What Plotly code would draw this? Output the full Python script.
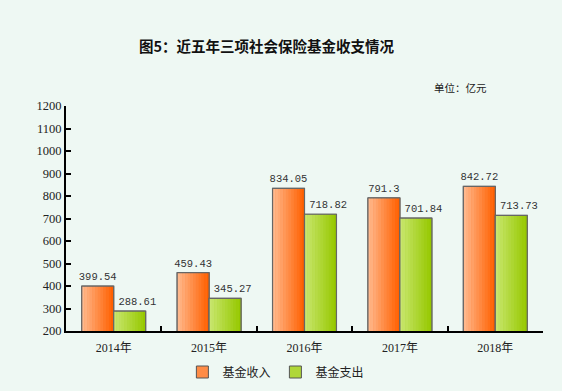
import plotly.graph_objects as go

years = ["2014年", "2015年", "2016年", "2017年", "2018年"]
income = [399.54, 459.43, 834.05, 791.3, 842.72]
expense = [288.61, 345.27, 718.82, 701.84, 713.73]
income_labels = ["399.54", "459.43", "834.05", "791.3", "842.72"]
expense_labels = ["288.61", "345.27", "718.82", "701.84", "713.73"]

BG = "#EEF8F3"
W = 0.335
N = 12
LABEL_FONT = dict(family="Liberation Mono, DejaVu Sans Mono, monospace", size=10.5, color="#333333")


def lerp(c1, c2, t):
    return "rgb(%d,%d,%d)" % tuple(round(a + (b - a) * t) for a, b in zip(c1, c2))


# (name, values, labels, light colour, dark colour, bar offset, label shift)
series = [
    ("基金收入", income, income_labels, (255, 184, 140), (255, 96, 0), -W, 0.0),
    ("基金支出", expense, expense_labels, (200, 230, 110), (150, 200, 0), 0.0, 0.08),
]

fig = go.Figure()
for name, vals, labels, c1, c2, off, shift in series:
    fig.add_trace(go.Bar(
        x=years, y=vals, name=name, offset=off, width=W,
        marker=dict(color=lerp(c1, c2, 0.5), line=dict(color="#555555", width=1)),
        showlegend=True, hoverinfo="skip",
    ))
    for i in range(N):
        fig.add_trace(go.Bar(
            x=years, y=vals, offset=off + W * i / N, width=W / N + 0.002,
            marker=dict(color=lerp(c1, c2, i / (N - 1)), line=dict(width=0)),
            showlegend=False, hoverinfo="skip",
        ))
    fig.add_trace(go.Bar(
        x=years, y=vals, offset=off, width=W,
        marker=dict(color="rgba(0,0,0,0)", line=dict(color="#666666", width=1.2)),
        showlegend=False, hoverinfo="skip",
    ))
    # value labels (invisible bar, only carries the text)
    fig.add_trace(go.Bar(
        x=years, y=vals, offset=off + shift, width=W,
        marker=dict(color="rgba(0,0,0,0)", line=dict(width=0)),
        text=labels, textposition="outside", cliponaxis=False, constraintext="none",
        textfont=LABEL_FONT, showlegend=False, hoverinfo="skip",
    ))

fig.update_layout(
    width=562, height=391,
    paper_bgcolor=BG, plot_bgcolor=BG,
    barmode="overlay",
    margin=dict(l=66, r=19, t=106, b=60, autoexpand=False),
    font=dict(family="Noto Sans CJK SC", color="#222222"),
    showlegend=True,
    legend=dict(orientation="h", x=0.44, xanchor="center",
                yref="container", y=(391 - 372) / 391, yanchor="middle",
                font=dict(size=12, family="Noto Sans CJK SC", color="#222222"),
                itemwidth=30, bgcolor="rgba(0,0,0,0)", tracegroupgap=0),
    annotations=[
        dict(text="<b>图5：近五年三项社会保险基金收支情况</b>", xref="paper", yref="paper",
             x=(267 - 66) / 477, y=1 + (106 - 45) / 225, xanchor="center", yanchor="middle",
             showarrow=False, font=dict(size=14.5, family="Noto Sans CJK SC", color="#111111")),
        dict(text="单位：亿元", xref="paper", yref="paper",
             x=(489 - 66) / 477, y=1 + (106 - 88) / 225, xanchor="right", yanchor="middle",
             showarrow=False, font=dict(size=10.5, family="Noto Sans CJK SC", color="#222222")),
    ],
)
fig.update_yaxes(range=[200, 1200], dtick=100, tick0=200, showgrid=False, automargin=False,
                 showline=True, linecolor="#000000", linewidth=2,
                 ticks="inside", ticklen=5, tickwidth=1.5, tickcolor="#000000",
                 tickfont=dict(family="Liberation Serif", size=12.5, color="#222222"),
                 zeroline=False)
fig.update_xaxes(showgrid=False, showline=True, linecolor="#000000", linewidth=2, automargin=False,
                 ticks="inside", tickson="boundaries", ticklen=5, tickwidth=1.5, tickcolor="#000000",
                 ticklabelstandoff=5,
                 tickfont=dict(family="Liberation Serif, Noto Sans CJK SC", size=12, color="#222222"))

fig.write_html("out.html", config={"displayModeBar": False},
               post_script="document.body.style.margin='0';document.body.style.overflow='hidden';")
